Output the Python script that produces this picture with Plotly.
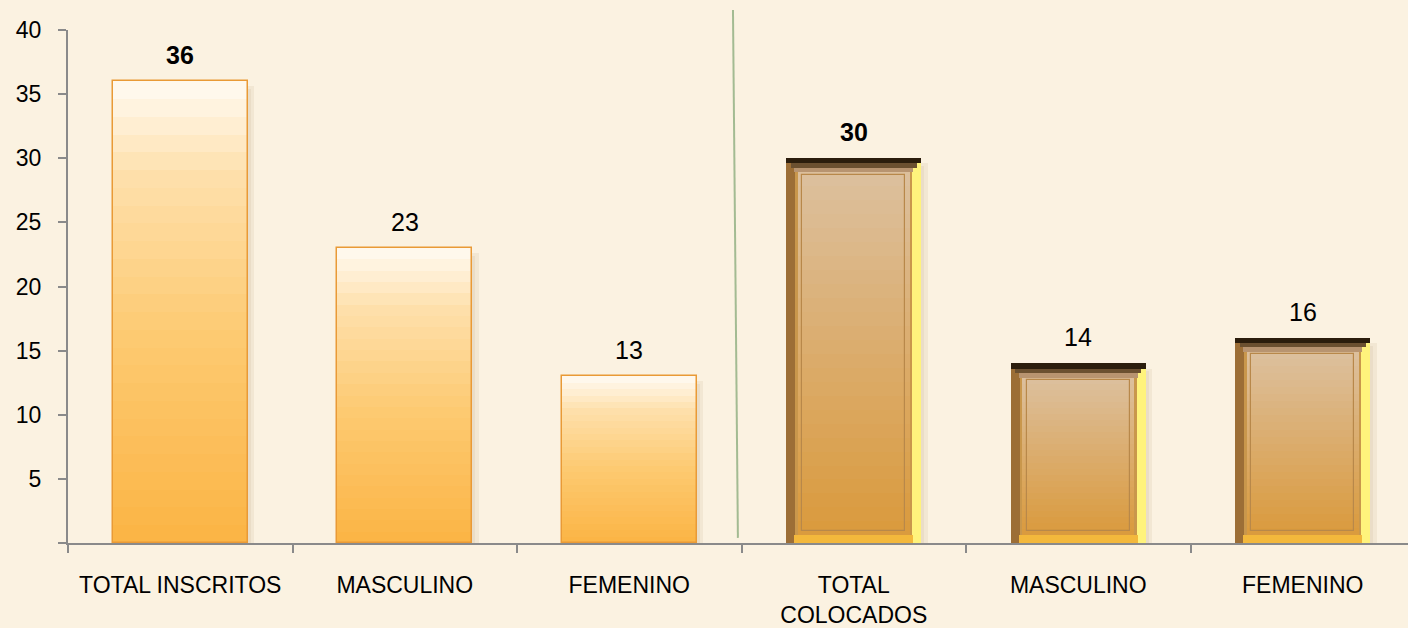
import plotly.graph_objects as go

# ---- data ----
categories = ["TOTAL INSCRITOS", "MASCULINO", "FEMENINO", "TOTAL<br>COLOCADOS", "MASCULINO", "FEMENINO"]
inscritos_values = [36, 23, 13]
colocados_values = [30, 14, 16]
bold_flags = [True, False, False, True, False, False]
y_ticks = [0, 5, 10, 15, 20, 25, 30, 35, 40]
y_ticktext = ["", "5", "10", "15", "20", "25", "30", "35", "40"]

values = inscritos_values + colocados_values
x_ins = [0, 1, 2]
x_col = [3, 4, 5]
xs = x_ins + x_col

FONT = "Liberation Sans, Arial, sans-serif"
BG = "#fbf2e1"


def hex2rgb(h):
    h = h.lstrip("#")
    return tuple(int(h[i:i + 2], 16) for i in (0, 2, 4))


def grad(stops, t):
    for (t0, c0), (t1, c1) in zip(stops[:-1], stops[1:]):
        if t0 <= t <= t1:
            u = 0 if t1 == t0 else (t - t0) / (t1 - t0)
            a, b = hex2rgb(c0), hex2rgb(c1)
            return "rgb(%d,%d,%d)" % tuple(round(a[i] + (b[i] - a[i]) * u) for i in range(3))
    return stops[-1][1]


fig = go.Figure()
N = 26
W = 0.6

# soft shadows
fig.add_trace(go.Bar(x=xs, y=[v - 0.4 for v in values], width=0.03, offset=W / 2,
                     marker=dict(color="rgba(150,120,80,0.09)", line_width=0), hoverinfo="skip"))
fig.add_trace(go.Bar(x=xs, y=[v - 0.6 for v in values], width=0.015, offset=W / 2,
                     marker=dict(color="rgba(150,120,80,0.09)", line_width=0), hoverinfo="skip"))

# ---- orange bars (inscritos) ----
orange_stops = [(0, "#fbb444"), (0.45, "#fdca72"), (0.8, "#fee0ac"), (0.92, "#fff0d8"), (1.0, "#fffbf2")]
for k in range(N, 0, -1):
    f = k / N
    fig.add_trace(go.Bar(x=x_ins, y=[v * f for v in inscritos_values], width=W,
                         marker=dict(color=grad(orange_stops, f - 0.5 / N), line_width=0),
                         hoverinfo="skip"))
fig.add_trace(go.Bar(x=x_ins, y=inscritos_values, width=W,
                     marker=dict(color="rgba(0,0,0,0)", line=dict(color="#e99a36", width=1.5)),
                     hoverinfo="skip"))

# ---- framed brown bars (colocados) ----
fig.add_trace(go.Bar(x=x_col, y=colocados_values, width=W,
                     marker=dict(color="#c9974c", line_width=0), hoverinfo="skip"))
# left bevel
fig.add_trace(go.Bar(x=x_col, y=colocados_values, width=0.04, offset=-W / 2,
                     marker=dict(color="#9c6e36", line_width=0), hoverinfo="skip"))
# right bevel
fig.add_trace(go.Bar(x=x_col, y=colocados_values, width=0.04, offset=W / 2 - 0.04,
                     marker=dict(color="#fff37c", line_width=0), hoverinfo="skip"))
# bottom bevel
fig.add_trace(go.Bar(x=x_col, y=[0.6] * 3, width=W - 0.07, offset=-W / 2 + 0.035,
                     marker=dict(color="#f3b83c", line_width=0), hoverinfo="skip"))
# top dark bevel
fig.add_trace(go.Bar(x=x_col, y=[0.4] * 3, base=[v - 0.4 for v in colocados_values], width=W,
                     marker=dict(color="#2b1d0c", line_width=0), hoverinfo="skip"))
fig.add_trace(go.Bar(x=x_col, y=[0.35] * 3, base=[v - 0.75 for v in colocados_values], width=W - 0.04,
                     offset=-W / 2 + 0.02,
                     marker=dict(color="#6b5030", line_width=0), hoverinfo="skip"))
fig.add_trace(go.Bar(x=x_col, y=[0.35] * 3, base=[v - 1.1 for v in colocados_values], width=W - 0.07,
                     offset=-W / 2 + 0.035,
                     marker=dict(color="#b89470", line_width=0), hoverinfo="skip"))
# inner panel gradient
brown_stops = [(0, "#da9a3c"), (0.5, "#dbac6c"), (1.0, "#dcc09e")]
for k in range(N, 0, -1):
    f = k / N
    fig.add_trace(go.Bar(x=x_col, y=[(v - 1.7) * f for v in colocados_values], base=[0.6] * 3,
                         width=W - 0.1, offset=-W / 2 + 0.05,
                         marker=dict(color=grad(brown_stops, f - 0.5 / N), line_width=0),
                         hoverinfo="skip"))
# inner outline
fig.add_trace(go.Bar(x=x_col, y=[v - 2.2 for v in colocados_values], base=[0.9] * 3,
                     width=W - 0.14, offset=-W / 2 + 0.07,
                     marker=dict(color="rgba(0,0,0,0)", line=dict(color="#b8884a", width=1.2)),
                     hoverinfo="skip"))

# ---- value labels ----
for x, v, b in zip(xs, values, bold_flags):
    fig.add_annotation(x=x, y=v, text=(f"<b>{v}</b>" if b else str(v)), showarrow=False,
                       yanchor="bottom", yshift=10, font=dict(family=FONT, size=25, color="#000000"))

# separator line between groups
fig.add_shape(type="line", xref="x", yref="paper", x0=2.462, x1=2.484, y0=1.039, y1=0.01,
              line=dict(color="#a3bb92", width=2))

fig.update_layout(
    width=1408, height=628,
    margin=dict(l=68, r=0, t=30, b=83),
    paper_bgcolor=BG, plot_bgcolor=BG,
    barmode="overlay", showlegend=False, bargap=0,
    font=dict(family=FONT, size=23, color="#000000"),
)
fig.update_xaxes(
    range=[-0.5, 5.5 - 7 / 224.5], tickvals=xs, ticktext=categories,
    ticks="", showgrid=False, zeroline=False,
    showline=True, linecolor="#8a8a8a", linewidth=2,
    tickfont=dict(family=FONT, size=23, color="#000000"), ticklabelstandoff=20,
    minor=dict(tickvals=[-0.5, 0.5, 1.5, 2.5, 3.5, 4.5], ticks="outside", ticklen=8,
               tickcolor="#8a8a8a", tickwidth=2, showgrid=False),
)
fig.update_yaxes(
    range=[0, 40], tickvals=y_ticks, ticktext=y_ticktext,
    ticks="outside", ticklen=8, tickcolor="#8a8a8a", tickwidth=2,
    showgrid=False, zeroline=False, showline=True, linecolor="#8a8a8a", linewidth=2,
    tickfont=dict(family=FONT, size=23, color="#000000"), ticklabelstandoff=12,
)

fig.write_html("out.html", config={"displayModeBar": False},
               post_script="document.body.style.margin='0px';document.body.style.overflow='hidden';")
